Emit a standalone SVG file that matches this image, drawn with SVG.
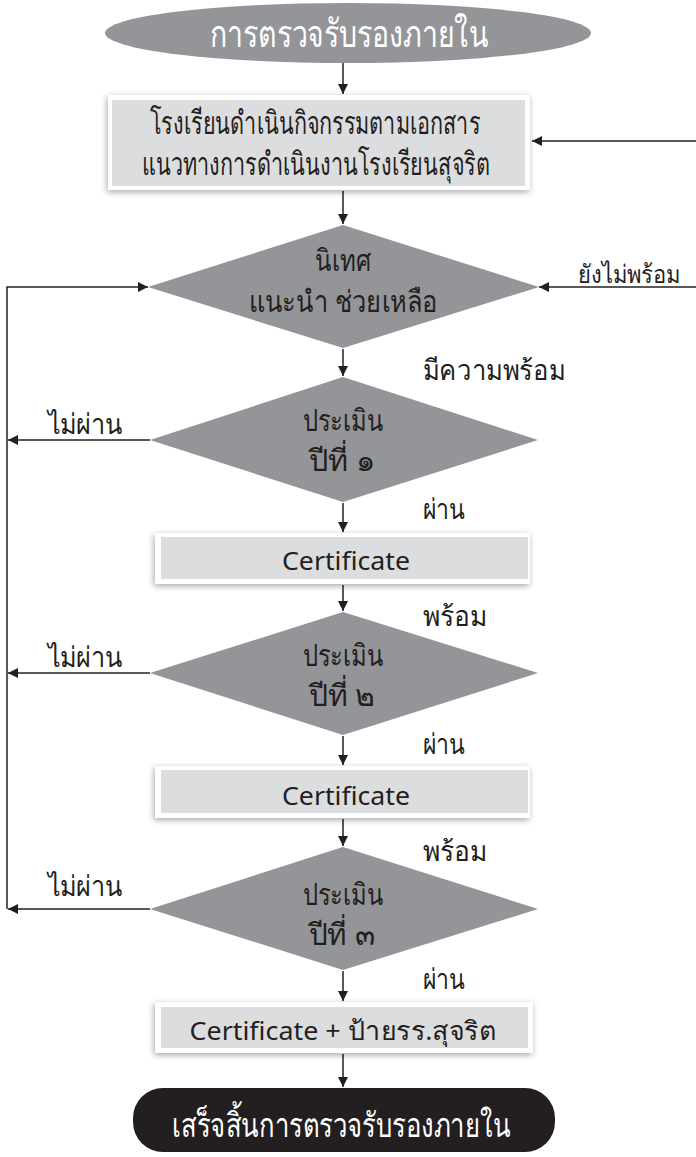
<svg xmlns="http://www.w3.org/2000/svg" width="696" height="1157" viewBox="0 0 696 1157">
<style>
.t{font-family:"Noto Sans","DejaVu Sans",sans-serif;fill:#231f20;text-anchor:middle}
.w{fill:#ffffff}
.lbl{font-size:28px}
.dt{font-size:30px}
.ln{stroke:#231f20;stroke-width:1.5;fill:none}
.dia{fill:#939598}
.frame{fill:#ffffff;filter:url(#sh)}
.inner{fill:#dcdddf}
</style>
<defs>
<marker id="ah" viewBox="0 0 10 10" refX="10" refY="5" markerWidth="10" markerHeight="10" markerUnits="userSpaceOnUse" orient="auto">
<path d="M0,0 L10,5 L0,10 z" fill="#231f20"/>
</marker>
<filter id="sh" x="-10%" y="-30%" width="120%" height="160%">
<feDropShadow dx="-1" dy="2" stdDeviation="3" flood-color="#000" flood-opacity="0.35"/>
</filter>
</defs>
<rect width="696" height="1157" fill="#ffffff"/>

<g id="connectors">
<line class="ln" x1="343" y1="63" x2="343" y2="94" marker-end="url(#ah)"/>
<line class="ln" x1="696" y1="141" x2="532" y2="141" marker-end="url(#ah)"/>
<line class="ln" x1="343" y1="191" x2="343" y2="224" marker-end="url(#ah)"/>
<line class="ln" x1="696" y1="287" x2="539" y2="287" marker-end="url(#ah)"/>
<polyline class="ln" points="7,909 7,287 148,287" marker-end="url(#ah)"/>
<line class="ln" x1="343" y1="349" x2="343" y2="376" marker-end="url(#ah)"/>
<line class="ln" x1="150" y1="440" x2="8" y2="440" marker-end="url(#ah)"/>
<line class="ln" x1="343" y1="503" x2="343" y2="532" marker-end="url(#ah)"/>
<line class="ln" x1="343" y1="585" x2="343" y2="611" marker-end="url(#ah)"/>
<line class="ln" x1="150" y1="673" x2="8" y2="673" marker-end="url(#ah)"/>
<line class="ln" x1="343" y1="736" x2="343" y2="765" marker-end="url(#ah)"/>
<line class="ln" x1="343" y1="819" x2="343" y2="846" marker-end="url(#ah)"/>
<line class="ln" x1="150" y1="909" x2="8" y2="909" marker-end="url(#ah)"/>
<line class="ln" x1="343" y1="971" x2="343" y2="1001" marker-end="url(#ah)"/>
<line class="ln" x1="343" y1="1054" x2="343" y2="1087" marker-end="url(#ah)"/>
</g>

<g id="labels">
<text class="t" x="629" y="283" font-size="25" textLength="102" lengthAdjust="spacingAndGlyphs">ยังไม่พร้อม</text>
<text class="t lbl" x="494" y="380" textLength="142" lengthAdjust="spacingAndGlyphs">มีความพร้อม</text>
<text class="t lbl" x="85" y="434" textLength="75" lengthAdjust="spacingAndGlyphs">ไม่ผ่าน</text>
<text class="t lbl" x="444" y="519" textLength="42" lengthAdjust="spacingAndGlyphs">ผ่าน</text>
<text class="t lbl" x="455" y="626" textLength="64" lengthAdjust="spacingAndGlyphs">พร้อม</text>
<text class="t lbl" x="85" y="667" textLength="75" lengthAdjust="spacingAndGlyphs">ไม่ผ่าน</text>
<text class="t lbl" x="444" y="754" textLength="42" lengthAdjust="spacingAndGlyphs">ผ่าน</text>
<text class="t lbl" x="455" y="861" textLength="64" lengthAdjust="spacingAndGlyphs">พร้อม</text>
<text class="t lbl" x="85" y="896" textLength="75" lengthAdjust="spacingAndGlyphs">ไม่ผ่าน</text>
<text class="t lbl" x="444" y="989" textLength="42" lengthAdjust="spacingAndGlyphs">ผ่าน</text>
</g>

<g id="start">
<ellipse cx="348" cy="33" rx="243" ry="30" fill="#939598"/>
<text class="t w" x="349" y="47" font-size="38" textLength="278" lengthAdjust="spacingAndGlyphs">การตรวจรับรองภายใน</text>
</g>

<g id="activity">
<rect class="frame" x="108" y="95" width="422" height="95"/>
<rect class="inner" x="112" y="100" width="413" height="86"/>
<text class="t" x="315" y="134" font-size="32" textLength="330" lengthAdjust="spacingAndGlyphs">โรงเรียนดำเนินกิจกรรมตามเอกสาร</text>
<text class="t" x="316" y="175" font-size="32" textLength="348" lengthAdjust="spacingAndGlyphs">แนวทางการดำเนินงานโรงเรียนสุจริต</text>
</g>

<g id="supervise">
<polygon class="dia" points="343,225 539,287 343,348 148,287"/>
<text class="t dt" x="343" y="271" textLength="56" lengthAdjust="spacingAndGlyphs">นิเทศ</text>
<text class="t dt" x="343" y="312" textLength="189" lengthAdjust="spacingAndGlyphs">แนะนำ ช่วยเหลือ</text>
</g>

<g id="eval1">
<polygon class="dia" points="343,377 538,440 343,502 150,440"/>
<text class="t dt" x="343" y="431" textLength="81" lengthAdjust="spacingAndGlyphs">ประเมิน</text>
<text class="t dt" x="342" y="471" textLength="67" lengthAdjust="spacingAndGlyphs">ปีที่ ๑</text>
</g>

<g id="cert1">
<rect class="frame" x="155" y="533" width="375" height="51"/>
<rect class="inner" x="161" y="537" width="367" height="42"/>
<text class="t" x="346" y="570" font-size="25" textLength="128" lengthAdjust="spacingAndGlyphs">Certificate</text>
</g>

<g id="eval2">
<polygon class="dia" points="343,612 538,673 343,735 150,673"/>
<text class="t dt" x="343" y="666" textLength="81" lengthAdjust="spacingAndGlyphs">ประเมิน</text>
<text class="t dt" x="342" y="706" textLength="67" lengthAdjust="spacingAndGlyphs">ปีที่ ๒</text>
</g>

<g id="cert2">
<rect class="frame" x="155" y="766" width="375" height="52"/>
<rect class="inner" x="161" y="770" width="367" height="43"/>
<text class="t" x="346" y="805" font-size="25" textLength="128" lengthAdjust="spacingAndGlyphs">Certificate</text>
</g>

<g id="eval3">
<polygon class="dia" points="343,847 538,909 343,970 150,909"/>
<text class="t dt" x="343" y="905" textLength="81" lengthAdjust="spacingAndGlyphs">ประเมิน</text>
<text class="t dt" x="342" y="945" textLength="67" lengthAdjust="spacingAndGlyphs">ปีที่ ๓</text>
</g>

<g id="cert3">
<rect class="frame" x="155" y="1002" width="378" height="51"/>
<rect class="inner" x="161" y="1007" width="367" height="41"/>
<text class="t" x="343" y="1040" font-size="26" textLength="307" lengthAdjust="spacingAndGlyphs">Certificate + ป้ายรร.สุจริต</text>
</g>

<g id="end">
<rect x="133" y="1088" width="422" height="64" rx="30" ry="30" fill="#231f20"/>
<text class="t w" x="341" y="1137" font-size="34" textLength="338" lengthAdjust="spacingAndGlyphs">เสร็จสิ้นการตรวจรับรองภายใน</text>
</g>
</svg>
